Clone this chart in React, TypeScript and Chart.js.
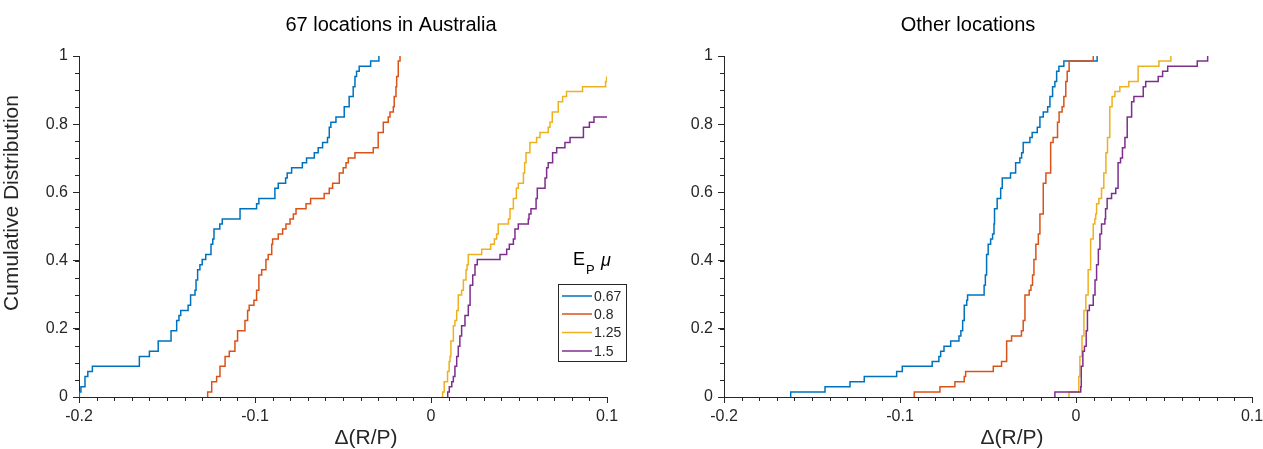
import React, { useEffect, useRef } from 'react';
import { Chart, registerables } from 'chart.js';

Chart.register(...registerables);

type Pt = [number, number];

// ---------- data ----------
const seriesLabels = ['0.67', '0.8', '1.25', '1.5'];
const seriesColors = ['#0072BD', '#D95319', '#EDB120', '#7E2F8E'];
const xTickValues = [-0.2, -0.1, 0, 0.1];
const yTickValues = [0, 0.2, 0.4, 0.6, 0.8, 1];
const panelTitles = ['67 locations in Australia', 'Other locations'];
const xAxisLabel = 'Δ(R/P)';
const yAxisLabel = 'Cumulative Distribution';

// Australia panel: [x of step, cumulative value after step]
const ausMu067: Pt[] = [
  [-0.1998, 0], [-0.1998, 0.015], [-0.1989, 0.030], [-0.1966, 0.060], [-0.195, 0.075], [-0.1924, 0.090],
  [-0.1657, 0.119], [-0.160, 0.134], [-0.155, 0.164], [-0.1477, 0.194], [-0.1445, 0.224], [-0.1432, 0.239],
  [-0.1422, 0.254], [-0.138, 0.269], [-0.1366, 0.299], [-0.1341, 0.313], [-0.1335, 0.343], [-0.1326, 0.373],
  [-0.1313, 0.388], [-0.130, 0.403], [-0.128, 0.418], [-0.125, 0.448], [-0.124, 0.463], [-0.1233, 0.493],
  [-0.120, 0.507], [-0.1186, 0.522], [-0.1085, 0.552], [-0.0991, 0.567], [-0.0978, 0.582], [-0.0887, 0.612],
  [-0.0868, 0.627], [-0.0826, 0.642], [-0.0817, 0.657], [-0.0792, 0.672], [-0.0731, 0.687], [-0.0707, 0.701],
  [-0.0663, 0.716], [-0.0641, 0.731], [-0.0616, 0.746], [-0.0588, 0.761], [-0.0578, 0.791], [-0.0569, 0.806],
  [-0.054, 0.821], [-0.0493, 0.851], [-0.0465, 0.881], [-0.0442, 0.910], [-0.0432, 0.940], [-0.0423, 0.955],
  [-0.0408, 0.970], [-0.0343, 0.985], [-0.0296, 1.0],
];
const ausMu08: Pt[] = [
  [-0.1269, 0], [-0.1269, 0.015], [-0.1246, 0.045], [-0.1218, 0.060], [-0.1199, 0.090], [-0.117, 0.119],
  [-0.1146, 0.134], [-0.1114, 0.164], [-0.1099, 0.194], [-0.1057, 0.224], [-0.1042, 0.254], [-0.1033, 0.269],
  [-0.1006, 0.284], [-0.0991, 0.313], [-0.0978, 0.358], [-0.0962, 0.373], [-0.0938, 0.403], [-0.0925, 0.418],
  [-0.0905, 0.448], [-0.09, 0.463], [-0.0868, 0.478], [-0.0843, 0.493], [-0.0824, 0.507], [-0.0801, 0.522],
  [-0.0782, 0.537], [-0.0767, 0.552], [-0.0710, 0.567], [-0.0684, 0.582], [-0.0607, 0.597], [-0.0578, 0.612],
  [-0.0559, 0.627], [-0.0521, 0.657], [-0.0499, 0.672], [-0.0483, 0.687], [-0.047, 0.701], [-0.0432, 0.716],
  [-0.0328, 0.731], [-0.030, 0.776], [-0.0271, 0.806], [-0.0243, 0.821], [-0.0233, 0.836], [-0.0214, 0.851],
  [-0.0209, 0.881], [-0.0199, 0.910], [-0.0195, 0.940], [-0.0186, 0.985], [-0.0176, 1.0],
];
const ausMu125: Pt[] = [
  [0.0066, 0], [0.0066, 0.015], [0.0075, 0.045], [0.0094, 0.075], [0.0103, 0.104], [0.0108, 0.119],
  [0.0113, 0.164], [0.0127, 0.209], [0.0136, 0.224], [0.0146, 0.254], [0.0155, 0.299], [0.0174, 0.313],
  [0.0184, 0.343], [0.0199, 0.373], [0.0205, 0.388], [0.0212, 0.418], [0.0288, 0.433], [0.0339, 0.448],
  [0.036, 0.463], [0.0373, 0.478], [0.0382, 0.507], [0.044, 0.522], [0.0449, 0.552], [0.0468, 0.582],
  [0.0485, 0.612], [0.0496, 0.627], [0.0525, 0.657], [0.0532, 0.687], [0.054, 0.716], [0.0562, 0.746],
  [0.060, 0.761], [0.0619, 0.776], [0.0666, 0.791], [0.0676, 0.806], [0.0689, 0.836], [0.0723, 0.866],
  [0.0748, 0.881], [0.077, 0.896], [0.0861, 0.910], [0.0992, 0.925], [0.0998, 0.940],
];
const ausMu15: Pt[] = [
  [0.0095, 0], [0.0095, 0.015], [0.0104, 0.030], [0.0118, 0.045], [0.0127, 0.060], [0.0136, 0.090],
  [0.0146, 0.119], [0.0155, 0.149], [0.0164, 0.179], [0.0174, 0.209], [0.0193, 0.239], [0.0212, 0.269],
  [0.0222, 0.328], [0.0237, 0.358], [0.025, 0.388], [0.0263, 0.403], [0.0392, 0.418], [0.043, 0.433],
  [0.0445, 0.448], [0.0468, 0.463], [0.0477, 0.493], [0.0496, 0.507], [0.0553, 0.522], [0.0557, 0.537],
  [0.0568, 0.552], [0.0597, 0.582], [0.0604, 0.612], [0.0648, 0.642], [0.0657, 0.672], [0.0666, 0.687],
  [0.0691, 0.716], [0.0714, 0.731], [0.0761, 0.746], [0.079, 0.761], [0.0866, 0.791], [0.090, 0.806],
  [0.0926, 0.821], [0.1, 0.821],
];

// Other locations panel
const othMu067: Pt[] = [
  [-0.1621, 0], [-0.1621, 0.015], [-0.1426, 0.030], [-0.1284, 0.045], [-0.1203, 0.060], [-0.1019, 0.075],
  [-0.0987, 0.090], [-0.0817, 0.104], [-0.0779, 0.119], [-0.0769, 0.134], [-0.075, 0.149], [-0.0712, 0.164],
  [-0.0665, 0.179], [-0.0654, 0.194], [-0.0644, 0.224], [-0.0635, 0.269], [-0.0621, 0.284], [-0.0616, 0.299],
  [-0.0522, 0.328], [-0.0515, 0.358], [-0.0508, 0.418], [-0.0499, 0.448], [-0.0485, 0.463], [-0.0474, 0.478],
  [-0.0466, 0.507], [-0.0463, 0.552], [-0.0448, 0.582], [-0.0428, 0.612], [-0.0419, 0.642], [-0.0372, 0.657],
  [-0.0343, 0.687], [-0.0319, 0.701], [-0.0309, 0.716], [-0.030, 0.746], [-0.0262, 0.761], [-0.0249, 0.776],
  [-0.022, 0.791], [-0.0205, 0.821], [-0.0186, 0.836], [-0.0161, 0.851], [-0.0148, 0.881], [-0.0133, 0.910],
  [-0.012, 0.925], [-0.011, 0.955], [-0.0097, 0.970], [-0.0069, 0.985], [0.012, 1.0],
];
const othMu08: Pt[] = [
  [-0.0919, 0], [-0.0919, 0.015], [-0.0773, 0.030], [-0.0688, 0.045], [-0.0635, 0.060], [-0.0627, 0.075],
  [-0.047, 0.090], [-0.0423, 0.104], [-0.0394, 0.164], [-0.0366, 0.179], [-0.031, 0.194], [-0.030, 0.224],
  [-0.029, 0.299], [-0.0266, 0.313], [-0.0256, 0.328], [-0.0247, 0.358], [-0.0239, 0.403], [-0.0228, 0.448],
  [-0.0214, 0.478], [-0.0205, 0.537], [-0.0186, 0.627], [-0.0171, 0.657], [-0.0144, 0.746], [-0.013, 0.761],
  [-0.0105, 0.806], [-0.0096, 0.836], [-0.0079, 0.851], [-0.0069, 0.881], [-0.0058, 0.925], [-0.005, 0.955],
  [-0.0039, 0.985], [0.0098, 1.0],
];
const othMu125: Pt[] = [
  [-0.004, 0], [-0.004, 0.015], [0.0016, 0.060], [0.0022, 0.119], [0.0034, 0.179], [0.0045, 0.254],
  [0.0056, 0.299], [0.0069, 0.373], [0.0083, 0.463], [0.0098, 0.507], [0.0107, 0.522], [0.0112, 0.537],
  [0.0117, 0.567], [0.013, 0.582], [0.0145, 0.612], [0.0158, 0.657], [0.017, 0.716], [0.0179, 0.761],
  [0.0192, 0.851], [0.0205, 0.881], [0.0221, 0.896], [0.0249, 0.910], [0.030, 0.925], [0.0353, 0.970],
  [0.0471, 0.985], [0.0539, 1.0],
];
const othMu15: Pt[] = [
  [-0.012, 0], [-0.012, 0.015], [0.0027, 0.030], [0.003, 0.090], [0.0039, 0.134], [0.0048, 0.149],
  [0.0058, 0.194], [0.0065, 0.254], [0.0076, 0.269], [0.0098, 0.299], [0.0108, 0.343], [0.0117, 0.388],
  [0.0127, 0.433], [0.0136, 0.478], [0.0145, 0.507], [0.0164, 0.522], [0.0168, 0.552], [0.0177, 0.582],
  [0.0202, 0.597], [0.0226, 0.612], [0.0239, 0.687], [0.0253, 0.701], [0.0264, 0.731], [0.0278, 0.761],
  [0.0291, 0.821], [0.0316, 0.866], [0.0329, 0.881], [0.0382, 0.910], [0.0396, 0.925], [0.0467, 0.940],
  [0.0492, 0.955], [0.0521, 0.970], [0.0689, 0.985], [0.0748, 1.0],
];

// ---------- styling ----------
const FONT = '"Liberation Sans", Arial, Helvetica, sans-serif';
const AXIS_COLOR = '#262626';
const X_MIN = -0.2;
const X_MAX = 0.1;
const X_MINOR = 0.01;
const Y_MINOR = 0.05;

const fmt = (v: number) => String(Math.round(v * 100) / 100);

type PanelCfg = {
  series: Pt[][];
  title: string;
  canvasLeft: number;
  canvasWidth: number;
  plotLeft: number;
  plotRight: number;
  titleX: number;
  xLabelX: number;
  showYLabel: boolean;
  showLegend: boolean;
};

function Panel({ cfg }: { cfg: PanelCfg }) {
  const ref = useRef<HTMLCanvasElement | null>(null);
  useEffect(() => {
    if (!ref.current) return;
    const decor = {
      id: 'decor',
      afterDraw(chart: any) {
        const ctx: CanvasRenderingContext2D = chart.ctx;
        const xs = chart.scales.x;
        const ys = chart.scales.y;
        const area = chart.chartArea;
        ctx.save();
        // minor ticks
        ctx.strokeStyle = AXIS_COLOR;
        ctx.lineWidth = 1;
        ctx.beginPath();
        const nx = Math.round((X_MAX - X_MIN) / X_MINOR);
        for (let i = 0; i <= nx; i++) {
          const px = Math.round(xs.getPixelForValue(X_MIN + i * X_MINOR)) + 0.5;
          ctx.moveTo(px, area.bottom);
          ctx.lineTo(px, area.bottom + 4);
        }
        const ny = Math.round(1 / Y_MINOR);
        for (let i = 0; i <= ny; i++) {
          const py = Math.round(ys.getPixelForValue(i * Y_MINOR)) + 0.5;
          ctx.moveTo(area.left - 4, py);
          ctx.lineTo(area.left, py);
        }
        ctx.stroke();

        // title
        ctx.fillStyle = '#000';
        ctx.font = `20px ${FONT}`;
        ctx.textAlign = 'center';
        ctx.textBaseline = 'alphabetic';
        ctx.fillText(cfg.title, cfg.titleX, 31);

        // x label
        ctx.fillStyle = AXIS_COLOR;
        ctx.font = `21px ${FONT}`;
        ctx.fillText(xAxisLabel, cfg.xLabelX, 444);

        // y label
        if (cfg.showYLabel) {
          ctx.save();
          ctx.translate(18, 203);
          ctx.rotate(-Math.PI / 2);
          ctx.textAlign = 'center';
          ctx.textBaseline = 'alphabetic';
          ctx.font = `21px ${FONT}`;
          ctx.fillText(yAxisLabel, 0, 0);
          ctx.restore();
        }

        // legend
        if (cfg.showLegend) {
          const bx = 558.5, by = 284.5, bw = 68, bh = 77;
          ctx.fillStyle = '#fff';
          ctx.fillRect(bx, by, bw, bh);
          ctx.strokeStyle = AXIS_COLOR;
          ctx.lineWidth = 1;
          ctx.strokeRect(bx, by, bw, bh);
          const rowY = [296, 314, 332.5, 351];
          seriesLabels.forEach((lab, i) => {
            ctx.strokeStyle = seriesColors[i];
            ctx.lineWidth = 1.5;
            ctx.beginPath();
            ctx.moveTo(562, rowY[i]);
            ctx.lineTo(592, rowY[i]);
            ctx.stroke();
            ctx.fillStyle = AXIS_COLOR;
            ctx.font = `14px ${FONT}`;
            ctx.textAlign = 'left';
            ctx.textBaseline = 'middle';
            ctx.fillText(lab, 594, rowY[i] + 1);
          });
          // legend title: E_P mu
          ctx.fillStyle = '#000';
          ctx.textBaseline = 'alphabetic';
          ctx.textAlign = 'left';
          ctx.font = `18px ${FONT}`;
          ctx.fillText('E', 573, 265);
          ctx.font = `13px ${FONT}`;
          ctx.fillText('P', 586, 274);
          ctx.font = `italic 18px ${FONT}`;
          ctx.fillText('μ', 601, 266);
        }
        ctx.restore();
      },
    };

    const datasets = cfg.series.map((s, i) => ({
      label: seriesLabels[i],
      data: s.map(([x, y]) => ({ x, y })),
      borderColor: seriesColors[i],
      backgroundColor: seriesColors[i],
      borderWidth: 1.5,
      pointRadius: 0,
      pointHoverRadius: 0,
      stepped: 'before' as const,
      fill: false,
      order: cfg.series.length - i,
    }));

    const chart = new Chart(ref.current, {
      type: 'line',
      data: { datasets },
      options: {
        responsive: false,
        maintainAspectRatio: false,
        animation: false,
        events: [],
        layout: { padding: { left: 0, right: cfg.canvasWidth - cfg.plotRight, top: 56, bottom: 0 } },
        plugins: {
          legend: { display: false },
          title: { display: false },
          tooltip: { enabled: false },
        },
        scales: {
          x: {
            type: 'linear',
            min: X_MIN,
            max: X_MAX,
            offset: false,
            afterFit: (s: any) => { s.height = 52; },
            afterBuildTicks: (s: any) => { s.ticks = xTickValues.map((v) => ({ value: v })); },
            ticks: {
              callback: (v: any) => fmt(Number(v)),
              font: { family: FONT, size: 16 },
              color: AXIS_COLOR,
              padding: 4,
              maxRotation: 0,
              autoSkip: false,
            },
            grid: { drawOnChartArea: false, drawTicks: true, tickLength: 6, color: AXIS_COLOR, tickColor: AXIS_COLOR },
            border: { display: true, color: AXIS_COLOR, width: 1 },
          },
          y: {
            type: 'linear',
            min: 0,
            max: 1,
            afterFit: (s: any) => { s.width = cfg.plotLeft; },
            afterBuildTicks: (s: any) => { s.ticks = yTickValues.map((v) => ({ value: v })); },
            ticks: {
              callback: (v: any) => fmt(Number(v)),
              font: { family: FONT, size: 16 },
              color: AXIS_COLOR,
              padding: 5,
              autoSkip: false,
            },
            grid: { drawOnChartArea: false, drawTicks: true, tickLength: 6, color: AXIS_COLOR, tickColor: AXIS_COLOR },
            border: { display: true, color: AXIS_COLOR, width: 1 },
          },
        },
      },
      plugins: [decor],
    } as any);
    return () => chart.destroy();
  }, [cfg]);

  return (
    <canvas
      ref={ref}
      width={cfg.canvasWidth}
      height={449}
      style={{ position: 'absolute', left: cfg.canvasLeft, top: 0, width: cfg.canvasWidth, height: 449 }}
    />
  );
}

const leftPanel: PanelCfg = {
  series: [ausMu067, ausMu08, ausMu125, ausMu15],
  title: panelTitles[0],
  canvasLeft: 0,
  canvasWidth: 640,
  plotLeft: 79,
  plotRight: 607,
  titleX: 391,
  xLabelX: 366,
  showYLabel: true,
  showLegend: true,
};

const rightPanel: PanelCfg = {
  series: [othMu067, othMu08, othMu125, othMu15],
  title: panelTitles[1],
  canvasLeft: 620,
  canvasWidth: 660,
  plotLeft: 104,
  plotRight: 632,
  titleX: 348,
  xLabelX: 392,
  showYLabel: false,
  showLegend: false,
};

export default function App() {
  return (
    <div
      style={{
        position: 'fixed',
        left: 0,
        top: 0,
        width: 1263,
        height: 449,
        overflow: 'hidden',
        background: '#fff',
      }}
    >
      <Panel cfg={rightPanel} />
      <Panel cfg={leftPanel} />
    </div>
  );
}
